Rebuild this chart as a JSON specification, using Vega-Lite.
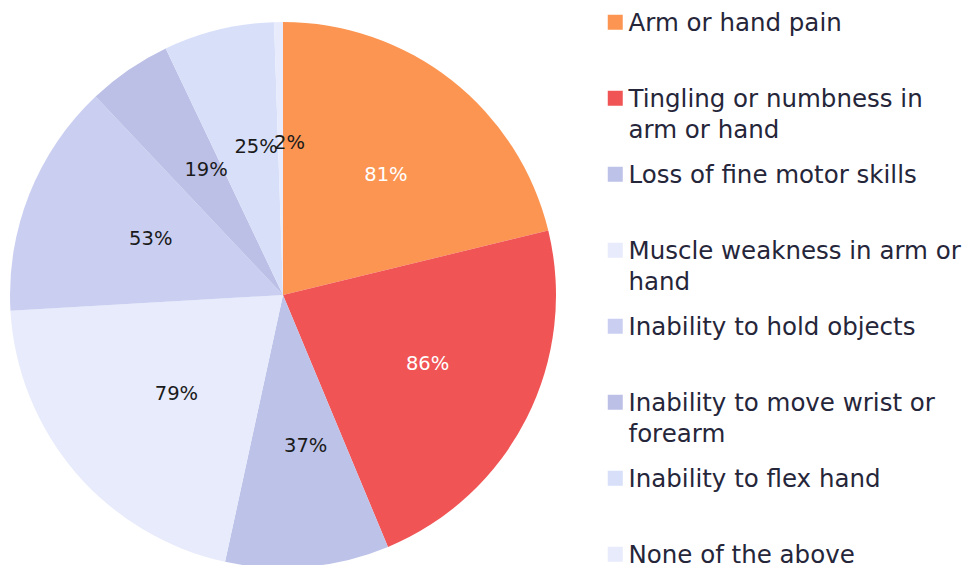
{
  "$schema": "https://vega.github.io/schema/vega-lite/v6.json",
  "width": 566,
  "height": 590,
  "autosize": "none",
  "padding": {"left": 0, "top": 0, "right": 399, "bottom": 0},
  "background": "white",
  "view": {"stroke": null},
  "config": {"style": {"guide-label": {"lineHeight": 31}}},
  "data": {
    "values": [
      {"order": 1, "symptom": "Arm or hand pain", "value": 81},
      {"order": 2, "symptom": "Tingling or numbness in arm or hand", "value": 86},
      {"order": 3, "symptom": "Loss of fine motor skills", "value": 37},
      {"order": 4, "symptom": "Muscle weakness in arm or hand", "value": 79},
      {"order": 5, "symptom": "Inability to hold objects", "value": 53},
      {"order": 6, "symptom": "Inability to move wrist or forearm", "value": 19},
      {"order": 7, "symptom": "Inability to flex hand", "value": 25},
      {"order": 8, "symptom": "None of the above", "value": 2}
    ]
  },
  "encoding": {
    "theta": {"field": "value", "type": "quantitative", "stack": true},
    "order": {"field": "order", "type": "quantitative"}
  },
  "layer": [
    {
      "mark": {"type": "arc", "outerRadius": 273},
      "encoding": {
        "color": {
          "field": "symptom",
          "type": "nominal",
          "sort": {"field": "order"},
          "scale": {
            "domain": ["Arm or hand pain", "Tingling or numbness in arm or hand", "Loss of fine motor skills", "Muscle weakness in arm or hand", "Inability to hold objects", "Inability to move wrist or forearm", "Inability to flex hand", "None of the above"],
            "range": ["#FC9552", "#F05454", "#BDC2E8", "#E7EBFB", "#CACFF1", "#BCC0E7", "#D7DFF9", "#E7EBFB"]
          },
          "legend": {
            "title": null,
            "orient": "right",
            "offset": 27,
            "padding": 10,
            "symbolType": "square",
            "symbolSize": 225,
            "symbolStrokeWidth": 0,
            "labelFont": "DejaVu Sans",
            "labelFontSize": 24.5,
            "labelColor": "#26263A",
            "labelOffset": 1,
            "labelLimit": 400,
            "labelBaseline": "alphabetic",
            "gridAlign": "all",
            "rowPadding": 19,
            "encode": {"labels": {"update": {"dy": {"value": 9}}}},
            "labelExpr": "datum.label == 'Tingling or numbness in arm or hand' ? ['Tingling or numbness in', 'arm or hand'] : datum.label == 'Muscle weakness in arm or hand' ? ['Muscle weakness in arm or', 'hand'] : datum.label == 'Inability to move wrist or forearm' ? ['Inability to move wrist or', 'forearm'] : datum.label"
          }
        }
      }
    },
    {
      "transform": [{"calculate": "datum.value + '%'", "as": "pct"}],
      "mark": {"type": "text", "radius": 152, "dx": 9, "font": "DejaVu Sans", "fontSize": 19.5},
      "encoding": {
        "text": {"field": "pct", "type": "nominal"},
        "color": {
          "condition": {"test": "datum.order <= 2", "value": "#FFFFFF"},
          "value": "#1A1A1A"
        }
      }
    }
  ]
}
